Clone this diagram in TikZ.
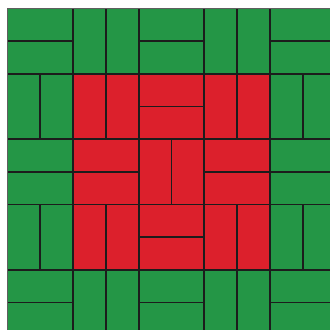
\documentclass[tikz,border=0pt]{standalone}
\definecolor{brickgreen}{RGB}{36,150,70}
\definecolor{brickred}{RGB}{220,32,44}
\definecolor{grout}{RGB}{28,28,28}
\definecolor{edgegray}{RGB}{95,95,95}
\tikzset{
  joint/.style={draw=grout,line width=1.7pt},
  outeredge/.style={draw=edgegray,line width=1.2pt}
}
\begin{document}
\begin{tikzpicture}[x=1pt,y=-1pt]
\useasboundingbox (0,0) rectangle (330,330);
\fill[white] (0,0) rectangle (330,330);
\begin{scope}
\clip (0,0) rectangle (330,330);
% block c/r/orientation(0=H,1=V)/colour
\foreach \c/\r/\o/\col in {
  0/0/0/brickgreen,1/0/1/brickgreen,2/0/0/brickgreen,3/0/1/brickgreen,4/0/0/brickgreen,
  0/1/1/brickgreen,1/1/1/brickred,2/1/0/brickred,3/1/1/brickred,4/1/1/brickgreen,
  0/2/0/brickgreen,1/2/0/brickred,2/2/1/brickred,3/2/0/brickred,4/2/0/brickgreen,
  0/3/1/brickgreen,1/3/1/brickred,2/3/0/brickred,3/3/1/brickred,4/3/1/brickgreen,
  0/4/0/brickgreen,1/4/1/brickgreen,2/4/0/brickgreen,3/4/1/brickgreen,4/4/0/brickgreen}{
  \pgfmathsetmacro\xa{7.5+\c*65.6}
  \pgfmathsetmacro\xb{\xa+65.6}
  \pgfmathsetmacro\xm{\xa+32.8}
  \pgfmathsetmacro\ya{8.3+\r*65.4}
  \pgfmathsetmacro\yb{\ya+65.4}
  \pgfmathsetmacro\ym{\ya+32.7}
  \fill[\col] (\xa,\ya) rectangle (\xb,\yb);
  \ifnum\o=0
    \draw[joint] (\xa,\ym) -- (\xb,\ym);
  \else
    \draw[joint] (\xm,\ya) -- (\xm,\yb);
  \fi
}
% block joints
\foreach \i in {1,2,3,4,5}{
  \pgfmathsetmacro\xx{7.5+\i*65.6}
  \pgfmathsetmacro\yy{8.3+\i*65.4}
  \draw[joint] (\xx,8.3) -- (\xx,340);
  \draw[joint] (7.5,\yy) -- (340,\yy);
}
\draw[outeredge] (7.5,340) -- (7.5,8.3) -- (340,8.3);
\end{scope}
\end{tikzpicture}
\end{document}
